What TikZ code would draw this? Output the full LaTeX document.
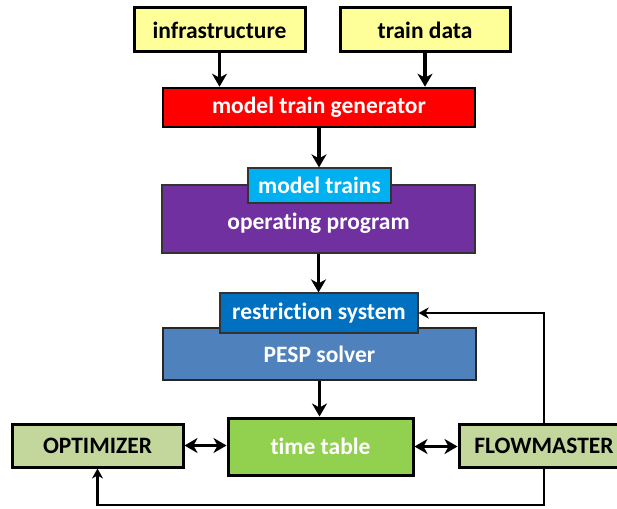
\documentclass[tikz,border=0pt]{standalone}
\usepackage{fontspec}
\setmainfont{Carlito}[Ligatures=CommonOff]
\usetikzlibrary{arrows.meta}
\definecolor{inyellow}{HTML}{FFFF99}
\definecolor{genred}{HTML}{FF0000}
\definecolor{trainblue}{HTML}{00B0F0}
\definecolor{progpurple}{HTML}{7030A0}
\definecolor{restrblue}{HTML}{0070C0}
\definecolor{pespblue}{HTML}{4F81BD}
\definecolor{ttgreen}{HTML}{92D050}
\definecolor{toolgreen}{HTML}{C3D69B}
\tikzset{
  box/.style={rectangle, inner sep=0pt, font=\bfseries\fontsize{23.5}{26}\selectfont, align=center},
  inbox/.style={box, fill=inyellow, draw=black, line width=3pt, text=black},
  genbox/.style={box, fill=genred, draw=black, line width=2.6pt, text=white},
  thinbox/.style={box, draw=black!80, line width=1.2pt, text=white},
  toolbox/.style={box, fill=toolgreen, draw=black, line width=3pt, text=black},
  flow/.style={line width=3.8pt, -{Stealth[length=13pt,width=15pt,inset=4pt]}},
  both/.style={line width=3.8pt, {Stealth[length=13pt,width=15pt,inset=4pt]}-{Stealth[length=13pt,width=15pt,inset=4pt]}},
  fb/.style={line width=2.8pt, -{Stealth[length=10pt,width=11pt,inset=3pt]}}
}
\begin{document}
\begin{tikzpicture}[x=1pt,y=-1pt]
\useasboundingbox[fill=white] (0,0) rectangle (617,508);
\clip (0,0) rectangle (617,508);

% inputs
\node[inbox, minimum width=171pt, minimum height=44pt] (infra) at (219.5,30) {infrastructure};
\node[inbox, minimum width=170pt, minimum height=44pt] (tdata) at (425,30) {train data};

% generator
\node[genbox, minimum width=312pt, minimum height=39pt] (gen) at (319,107.5) {model train generator};

% operating program with model trains tab
\node[thinbox, fill=progpurple, minimum width=313pt, minimum height=68pt] (prog) at (318.5,219) {\raisebox{-4pt}[\height][\depth]{operating program}};
\node[thinbox, fill=trainblue, minimum width=143pt, minimum height=35pt] (trains) at (319.5,185.5) {model trains};

% PESP solver with restriction system tab
\node[thinbox, fill=pespblue, draw=black!85, line width=2.2pt, minimum width=313pt, minimum height=52pt] (pesp) at (319.5,354) {PESP solver};
\node[thinbox, fill=restrblue, minimum width=198pt, minimum height=40pt] (restr) at (319,313) {restriction system};

% time table and tools
\node[box, fill=ttgreen, draw=black, line width=3pt, text=white, minimum width=185pt, minimum height=57pt] (tt) at (320.5,446.5) {time table};
\node[toolbox, minimum width=171pt, minimum height=43pt] (opt) at (97.5,445.5) {OPTIMIZER};
\node[toolbox, minimum width=170pt, minimum height=43pt] (fm) at (544,445.5) {FLOWMASTER};

% main flow
\draw[flow] (infra.south) -- (infra.south |- gen.north);
\draw[flow] (tdata.south) -- (tdata.south |- gen.north);
\draw[flow] (gen.south) -- (gen.south |- trains.north);
\draw[flow] (prog.south) -- (prog.south |- restr.north);
\draw[flow] (pesp.south) -- (pesp.south |- tt.north);
\draw[both] (opt.east) -- (opt.east -| tt.west);
\draw[both] (tt.east) -- (tt.east -| fm.west);

% feedback loops
\draw[fb] (fm.north) |- (restr.east);
\coordinate (loop) at (544,505);
\draw[fb] (fm.south) -- (loop) -| (opt.south);
\end{tikzpicture}
\end{document}
